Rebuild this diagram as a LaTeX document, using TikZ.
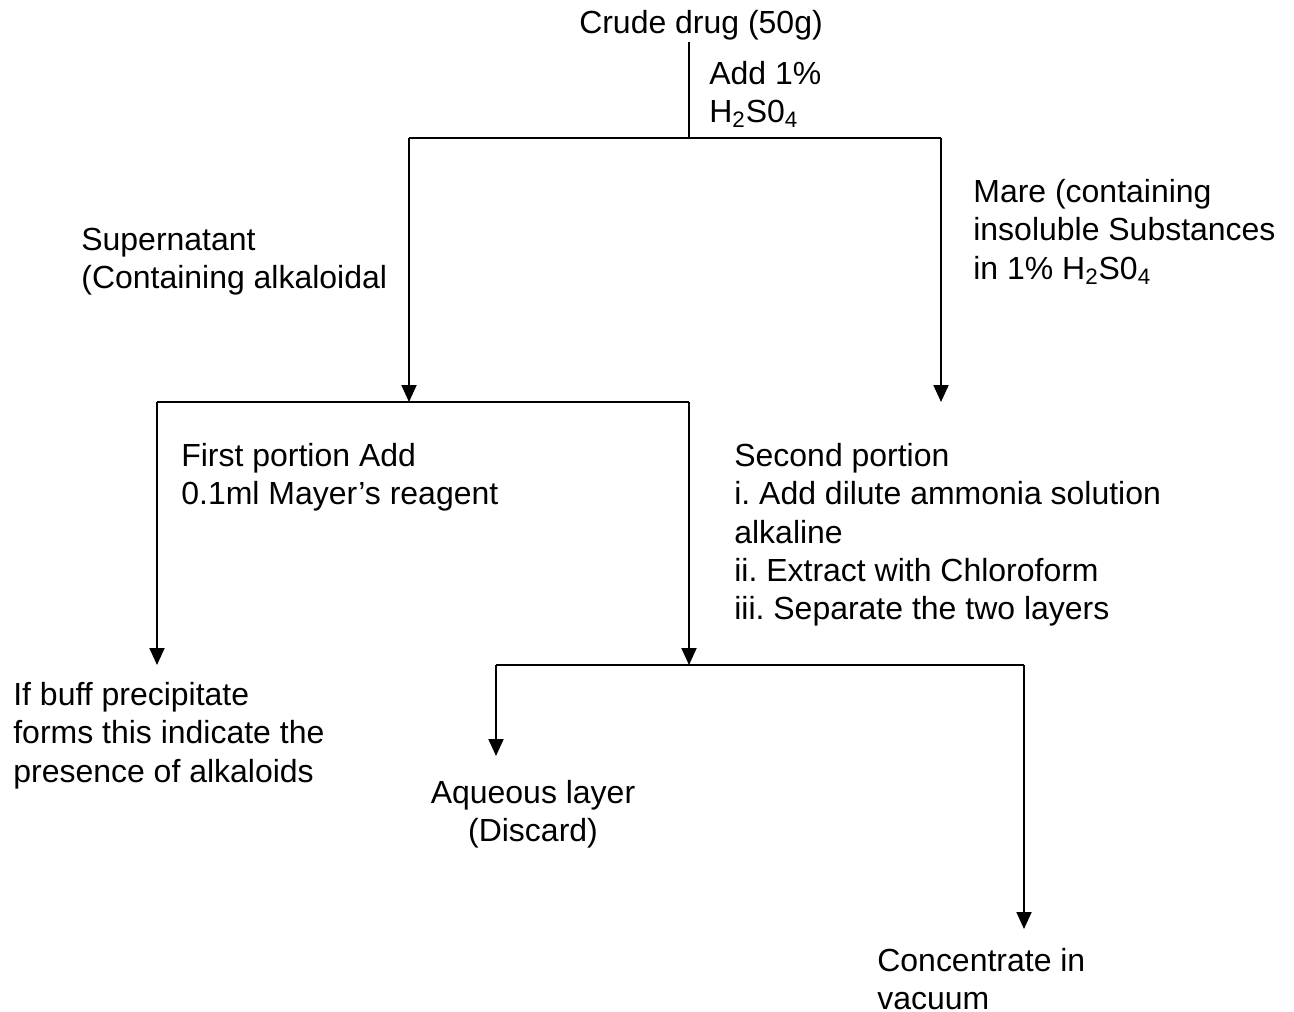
\documentclass[tikz,border=0pt]{standalone}
\usepackage{fontspec}
\setmainfont{Liberation Sans}
\usetikzlibrary{arrows.meta}
\frenchspacing
\begin{document}
\begin{tikzpicture}[x=0.02cm,y=-0.02cm,
  lbl/.style={inner sep=0pt,align=left,anchor=north west,font=\fontsize{18.2}{21.8}\selectfont},
  clbl/.style={lbl,align=center,anchor=north},
  link/.style={line width=1.1pt},
  arr/.style={link,-{Triangle[length=0.34cm,width=0.3cm]}}]
\useasboundingbox (0,0) rectangle (1294,1011);

% text blocks
\node[clbl] (crude) at (701,10) {Crude drug (50g)};
\node[lbl] (acid) at (709,61) {Add 1\%\\H\textsubscript{2}S0\textsubscript{4}};
\node[lbl] (super) at (81,228) {Supernatant\\(Containing alkaloidal};
\node[lbl] (mare) at (973,179) {Mare (containing\\insoluble Substances\\in 1\% H\textsubscript{2}S0\textsubscript{4}};
\node[lbl] (first) at (181,443) {First portion Add\\0.1ml Mayer’s reagent};
\node[lbl] (second) at (734,443) {Second portion\\i. Add dilute ammonia solution\\alkaline\\ii. Extract with Chloroform\\iii. Separate the two layers};
\node[lbl] (buff) at (13,682) {If buff precipitate\\forms this indicate the\\presence of alkaloids};
\node[clbl] (aq) at (533,780) {Aqueous layer\\(Discard)};
\node[lbl] (conc) at (877,948) {Concentrate in\\vacuum};

% junction points of the flow lines
\coordinate (c0) at (689,42);
\coordinate (c1) at (689,138);
\coordinate (c1l) at (409,138);
\coordinate (c1r) at (941,138);
\coordinate (c2) at (409,402);
\coordinate (c2l) at (157,402);
\coordinate (c2r) at (689,402);
\coordinate (c3r) at (941,402);
\coordinate (c3l) at (157,665);
\coordinate (c4) at (689,665);
\coordinate (c4l) at (496,665);
\coordinate (c4r) at (1024,665);
\coordinate (c5l) at (496,756);
\coordinate (c5r) at (1024,929);

% first split: supernatant and marc
\draw[link] (c0) -- (c1);
\draw[link] (c1l) -- (c1r);
\draw[arr] (c1l) -- (c2);
\draw[arr] (c1r) -- (c3r);

% second split: the two portions
\draw[link] (c2l) -- (c2r);
\draw[arr] (c2l) -- (c3l);
\draw[arr] (c2r) -- (c4);

% third split: aqueous and chloroform layers
\draw[link] (c4l) -- (c4r);
\draw[arr] (c4l) -- (c5l);
\draw[arr] (c4r) -- (c5r);
\end{tikzpicture}
\end{document}
